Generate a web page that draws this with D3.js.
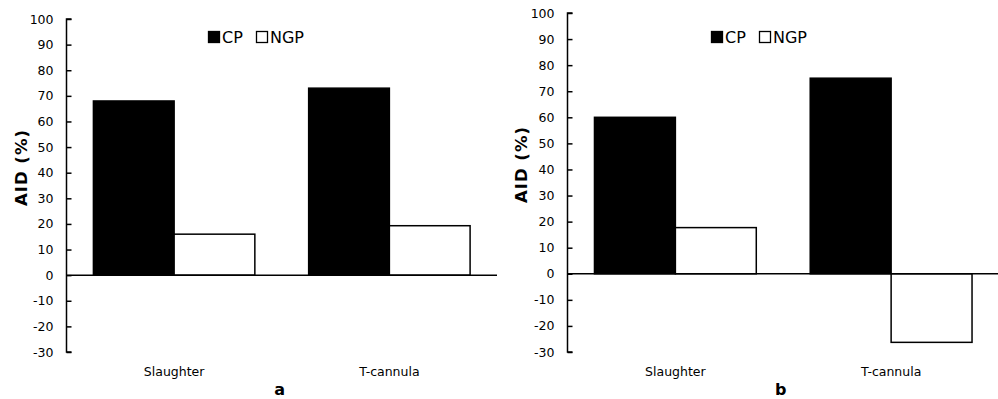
<!DOCTYPE html>
<html>
<head>
<meta charset="utf-8">
<script src="https://cdn.jsdelivr.net/npm/d3@7"></script>
<style>
  body { margin: 0; background: #fff; }
  svg { display: block; font-family: "DejaVu Sans", sans-serif; }
</style>
</head>
<body>
<svg width="998" height="399"></svg>
<script>
var categories = ["Slaughter", "T-cannula"];
var series = ["CP", "NGP"];
// panel a
var valuesA = { CP: [68, 73], NGP: [16, 19.3] };
// panel b
var valuesB = { CP: [60, 75], NGP: [17.7, -26.3] };
var yTicks = [100, 90, 80, 70, 60, 50, 40, 30, 20, 10, 0, -10, -20, -30];

var svg = d3.select("svg");

var panels = [
  { letter: "a", vals: valuesA, left: 66.5, right: 497, top: 19, bottom: 352, titleX: 21, legendX: 208 },
  { letter: "b", vals: valuesB, left: 567.5, right: 999, top: 13, bottom: 352, titleX: 521, legendX: 711 }
];

panels.forEach(function(p) {
  var g = svg.append("g");

  var x = d3.scaleBand().domain(categories).range([p.left, p.right]);
  var xs = d3.scaleBand().domain(series).range([0, x.bandwidth()]).paddingOuter(1 / 3);
  var y = d3.scaleLinear().domain([-30, 100]).range([p.bottom, p.top]);

  var rows = [];
  categories.forEach(function(c, i) {
    series.forEach(function(s) {
      rows.push({ cat: c, key: s, value: p.vals[s][i] });
    });
  });

  // bars
  g.selectAll("rect.bar")
    .data(rows)
    .enter().append("rect")
      .attr("class", "bar")
      .attr("x", function(d) { return x(d.cat) + xs(d.key); })
      .attr("width", xs.bandwidth())
      .attr("y", function(d) { return y(Math.max(0, d.value)); })
      .attr("height", function(d) { return Math.abs(y(d.value) - y(0)); })
      .attr("fill", function(d) { return d.key == "CP" ? "#000" : "#fff"; })
      .attr("stroke", "#000")
      .attr("stroke-width", 1.5);

  // zero line
  g.append("line")
    .attr("x1", p.left).attr("x2", p.right)
    .attr("y1", y(0)).attr("y2", y(0))
    .attr("stroke", "#000").attr("stroke-width", 1.5);

  // y axis, ticks pointing inward
  var yAxis = g.append("g")
    .attr("transform", "translate(" + p.left + ",0)")
    .call(d3.axisRight(y).tickValues(yTicks).tickSize(5).tickFormat(function(d) { return String(d); }));
  yAxis.select(".domain").attr("stroke-width", 1.5).attr("d", "M5," + p.top + "H0V" + p.bottom + "H5");
  yAxis.selectAll(".tick line").attr("stroke-width", 1.5);
  yAxis.selectAll(".tick text")
    .attr("x", -13)
    .attr("text-anchor", "end")
    .attr("font-size", 12.5)
    .attr("font-family", "DejaVu Sans, sans-serif")
    .attr("fill", "#000");

  // y title
  g.append("text")
    .attr("transform", "translate(" + p.titleX + "," + ((p.top + p.bottom) / 2 - 18) + ") rotate(-90)")
    .attr("text-anchor", "middle")
    .attr("dy", "0.35em")
    .attr("font-size", 16.5)
    .attr("letter-spacing", 1)
    .attr("font-weight", "bold")
    .text("AID (%)");

  // category labels
  g.selectAll("text.cat")
    .data(categories)
    .enter().append("text")
      .attr("class", "cat")
      .attr("x", function(d) { return x(d) + x.bandwidth() / 2; })
      .attr("y", 376)
      .attr("text-anchor", "middle")
      .attr("font-size", 12.5)
      .text(function(d) { return d; });

  // panel letter
  g.append("text")
    .attr("x", (p.left + Math.min(p.right, 998)) / 2 - 2)
    .attr("y", 395)
    .attr("text-anchor", "middle")
    .attr("font-size", 16)
    .attr("font-weight", "bold")
    .text(p.letter);

  // legend
  var lg = g.append("g").attr("transform", "translate(" + p.legendX + ",0)");
  var offs = [0, 48];
  series.forEach(function(s, i) {
    lg.append("rect")
      .attr("x", offs[i] + 0.5).attr("y", 31.5)
      .attr("width", 11).attr("height", 11)
      .attr("fill", s == "CP" ? "#000" : "#fff")
      .attr("stroke", "#000").attr("stroke-width", 1.3);
    lg.append("text")
      .attr("x", offs[i] + 14).attr("y", 43)
      .attr("font-size", 16)
      .text(s);
  });
});
</script>
</body>
</html>
